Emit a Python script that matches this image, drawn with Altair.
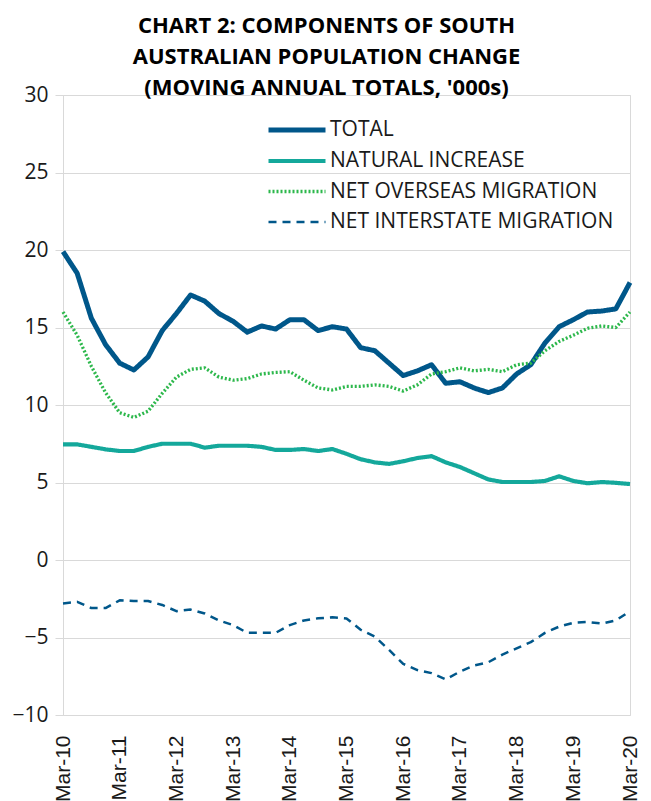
import altair as alt
import pandas as pd

tick_labels = ["Mar-10", "Mar-11", "Mar-12", "Mar-13", "Mar-14", "Mar-15",
               "Mar-16", "Mar-17", "Mar-18", "Mar-19", "Mar-20"]
series_names = ["TOTAL", "NATURAL INCREASE", "NET OVERSEAS MIGRATION", "NET INTERSTATE MIGRATION"]

total = [19.9, 18.5, 15.6, 13.9, 12.7, 12.26, 13.1, 14.8, 15.9, 17.1, 16.7, 15.9, 15.4, 14.7,
         15.1, 14.9, 15.5, 15.5, 14.8, 15.05, 14.9, 13.7, 13.5, 12.7, 11.9, 12.2, 12.6, 11.4,
         11.5, 11.1, 10.8, 11.1, 12.0, 12.6, 14.0, 15.05, 15.5, 16.0, 16.06, 16.2, 17.9]
natural = [7.46, 7.46, 7.3, 7.14, 7.03, 7.03, 7.3, 7.5, 7.5, 7.5, 7.25, 7.37, 7.37, 7.37,
           7.3, 7.1, 7.1, 7.16, 7.03, 7.16, 6.85, 6.5, 6.3, 6.2, 6.37, 6.58, 6.7, 6.3,
           6.0, 5.6, 5.2, 5.03, 5.03, 5.03, 5.1, 5.4, 5.1, 4.95, 5.03, 4.98, 4.9]
overseas = [16.0, 14.5, 12.5, 10.8, 9.5, 9.2, 9.6, 10.75, 11.8, 12.3, 12.4, 11.8, 11.6, 11.7,
            12.0, 12.1, 12.15, 11.6, 11.1, 10.97, 11.2, 11.2, 11.3, 11.2, 10.9, 11.3, 12.0, 12.15,
            12.4, 12.2, 12.3, 12.15, 12.6, 12.7, 13.5, 14.1, 14.5, 14.95, 15.1, 15.0, 16.0]
interstate = [-2.8, -2.7, -3.1, -3.1, -2.6, -2.65, -2.65, -2.9, -3.3, -3.2, -3.45, -3.9, -4.2, -4.7,
              -4.7, -4.7, -4.2, -3.9, -3.76, -3.7, -3.77, -4.5, -4.95, -5.8, -6.7, -7.1, -7.3, -7.7,
              -7.2, -6.8, -6.6, -6.1, -5.7, -5.3, -4.7, -4.3, -4.05, -4.0, -4.1, -3.9, -3.3]

rows = []
for name, vals in zip(series_names, [total, natural, overseas, interstate]):
    for q, v in enumerate(vals):
        rows.append({"series": name, "q": q, "value": v})
df = pd.DataFrame(rows)

colors = ["#00578A", "#14A89B", "#2DB84C", "#00578A"]
dashes = [[1, 0], [1, 0], [2, 2], [8, 6]]
widths = [5, 2.5, 2.5, 2.5]

label_array = "[" + ",".join("'" + t + "'" for t in tick_labels) + "]"

legend = alt.Legend(
    title=None, orient="none", legendX=222, legendY=23,
    symbolType="M-3,0H3", symbolSize=361, labelFontSize=21, labelFont="Open Sans",
    labelColor="#1a1a1a", rowPadding=9, labelOffset=21, symbolStrokeWidth=2.5,
    labelLimit=400,
)

chart = alt.Chart(df).mark_line(strokeCap="butt", strokeJoin="round").encode(
    x=alt.X("q:Q", scale=alt.Scale(domain=[0, 40], nice=False, zero=False),
            axis=alt.Axis(values=list(range(0, 41, 4)),
                          labelExpr=label_array + "[datum.value/4]",
                          labelAngle=270, labelAlign="right", labelBaseline="middle",
                          title=None, grid=False, ticks=False, domain=False,
                          labelFont="Liberation Sans",
                          labelFontSize=21, labelPadding=20)),
    y=alt.Y("value:Q", scale=alt.Scale(domain=[-10, 30], nice=False),
            axis=alt.Axis(values=list(range(-10, 31, 5)), title=None,
                          labelFont="Open Sans",
                          labelFontSize=21, labelPadding=7, tickSize=8,
                          tickColor="#D9D9D9", domainColor="#D9D9D9",
                          gridColor="#D9D9D9")),
    color=alt.Color("series:N", scale=alt.Scale(domain=series_names, range=colors), legend=legend),
    strokeDash=alt.StrokeDash("series:N", scale=alt.Scale(domain=series_names, range=dashes), legend=legend),
    strokeWidth=alt.StrokeWidth("series:N", scale=alt.Scale(domain=series_names, range=widths), legend=legend),
    order=alt.Order("q:Q"),
).properties(
    width=567, height=620,
    title=alt.TitleParams(
        ["CHART 2: COMPONENTS OF SOUTH", "AUSTRALIAN POPULATION CHANGE", "(MOVING ANNUAL TOTALS, '000s)"],
        fontSize=22, font="Open Sans", fontWeight="bold", lineHeight=31,
        anchor="middle", dx=-20, offset=-16, color="#000000"),
    autosize=alt.AutoSizeParams(type="none"),
    padding={"left": 55, "top": 87, "right": 13, "bottom": 86},
).configure(font="Open Sans").configure_axis(
    labelColor="#1a1a1a"
).configure_view(stroke="#D9D9D9")

chart.save("out.html", embed_options={"renderer": "svg", "actions": False})
